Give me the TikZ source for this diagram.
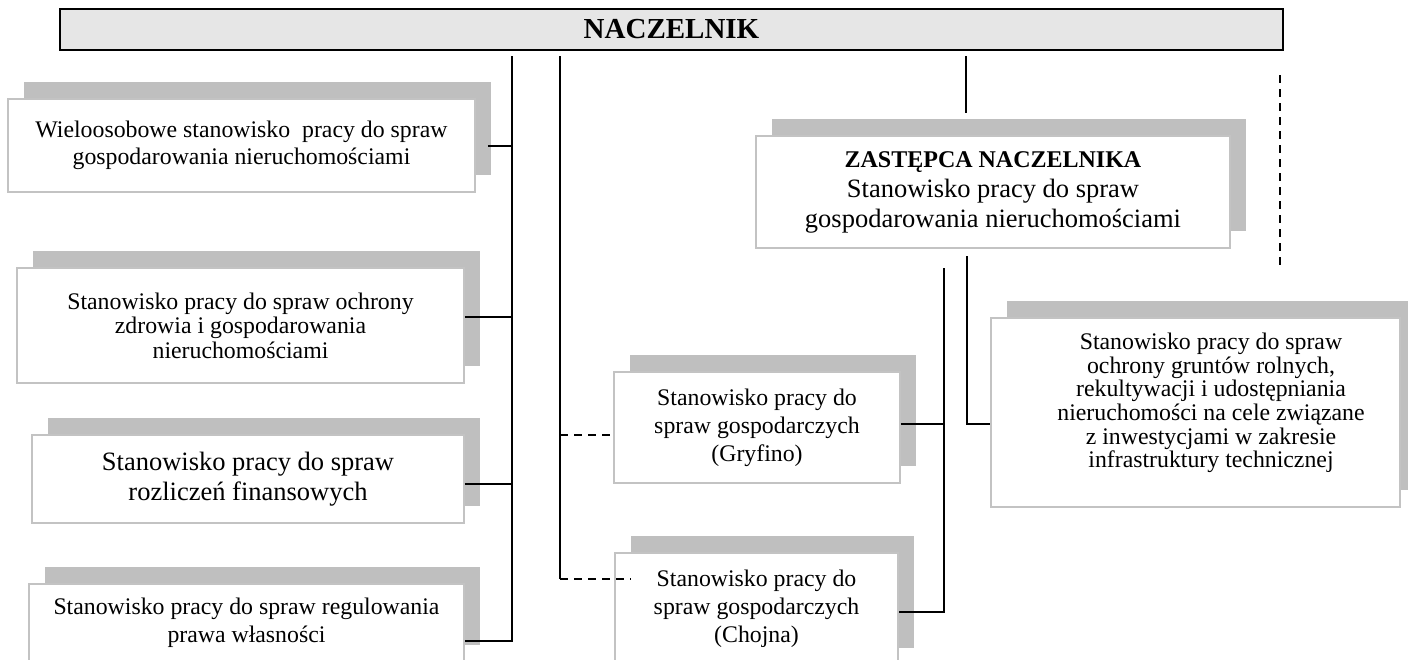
\documentclass[tikz,border=0pt]{standalone}
\usepackage{fontspec}
\setmainfont{Liberation Serif}
\usepackage{xcolor}
\usepackage{tikz}
\usetikzlibrary{positioning,shadows,calc}
\definecolor{headgray}{RGB}{230,230,230}
\definecolor{shadegray}{RGB}{191,191,191}
\definecolor{rimgray}{RGB}{195,195,195}

\begin{document}
\begin{tikzpicture}[x=0.5pt, y=-0.5pt,
  head/.style={draw=black, line width=1pt, fill=headgray, inner sep=0pt,
               font=\bfseries\fontsize{14.5pt}{17pt}\selectfont},
  post/.style={draw=rimgray, line width=0.75pt, fill=white, inner sep=0pt, align=center,
               font=\fontsize{11.9pt}{14pt}\selectfont,
               general shadow={fill=shadegray, shadow xshift=8pt, shadow yshift=8.5pt}},
  bigpost/.style={post, font=\fontsize{13.25pt}{15pt}\selectfont},
  link/.style={line width=1pt},
  dlink/.style={link, dash pattern=on 4pt off 3pt}]
\useasboundingbox (0,0) rectangle (1408,659);
\node[head, minimum width=611.5pt, minimum height=20.5pt] (nacz) at (671.5,29.5) {NACZELNIK};
\node[post, minimum width=233.5pt, minimum height=46.5pt, font=\fontsize{11.9pt}{13.5pt}\selectfont]
  (wielo) at (241.5,145.5) {Wieloosobowe stanowisko\ \ pracy do spraw\\gospodarowania nieruchomościami};
\node[post, minimum width=223.5pt, minimum height=57.5pt, font=\fontsize{11.9pt}{12.25pt}\selectfont]
  (ochr) at (240.5,325.5) {Stanowisko pracy do spraw ochrony\\zdrowia i gospodarowania\\nieruchomościami};
\node[bigpost, minimum width=216pt, minimum height=44pt] (rozl) at (248,479) {Stanowisko pracy do spraw\\rozliczeń finansowych};
\node[post, minimum width=217.5pt, minimum height=39pt] (regul) at (246.5,623) {Stanowisko pracy do spraw regulowania\\prawa własności};
\node[bigpost, minimum width=237pt, minimum height=56pt] (zast) at (993,192)
  {{\fontsize{12pt}{15pt}\selectfont\bfseries ZASTĘPCA NACZELNIKA}\\Stanowisko pracy do spraw\\gospodarowania nieruchomościami};
\node[post, minimum width=143pt, minimum height=55.5pt] (gryf) at (757,427.5) {Stanowisko pracy do\\spraw gospodarczych\\(Gryfino)};
\node[post, minimum width=141.5pt, minimum height=56pt] (choj) at (756.5,609) {Stanowisko pracy do\\spraw gospodarczych\\(Chojna)};
\node[post, minimum width=204.5pt, minimum height=94.5pt] (agro) at (1195.5,412.5) {};
\node[align=center, inner sep=0pt, font=\fontsize{11.9pt}{11.8pt}\selectfont] (agrotxt) at (1211,403)
  {Stanowisko pracy do spraw\\ochrony gruntów rolnych,\\rekultywacji i udostępniania\\nieruchomości na cele związane\\z inwestycjami w zakresie\\infrastruktury technicznej};
% buses under the boxes
\coordinate (bus1) at (512,56);
\coordinate (bus2) at (560,56);
\coordinate (bus3) at (966,56);
\coordinate (zin) at (966,113);
\coordinate (bus4) at (944,268);
\coordinate (bus5) at (967,256);
\coordinate (gryfin) at ([yshift=-3.75pt]gryf.west);
\coordinate (chojin) at ([xshift=8.5pt, yshift=15pt]choj.west);
\coordinate (dtop) at (1280,75);
\coordinate (dbot) at (1280,267);
\draw[link] (bus1) |- ([yshift=-9pt]regul.east);
\foreach \n/\dx/\dy in {wielo/6pt/0pt, ochr/0pt/4.25pt, rozl/0pt/-2.5pt}
  \draw[link] ([xshift=\dx, yshift=\dy]\n.east) -- ([yshift=\dy]\n.east -| bus1);
\draw[link] (bus2) -- (bus2 |- chojin);
\foreach \c in {gryfin, chojin} \draw[dlink] (bus2 |- \c) -- (\c);
\draw[link] (bus3) -- (zin);
\draw[link] (bus4) |- ([yshift=-1.5pt]choj.east);
\draw[link] ([yshift=1.75pt]gryf.east) -- ([yshift=1.75pt]gryf.east -| bus4);
\draw[link] (bus5) |- ([yshift=-5.75pt]agro.west);
\draw[dlink] (dtop) -- (dbot);
\end{tikzpicture}
\end{document}
